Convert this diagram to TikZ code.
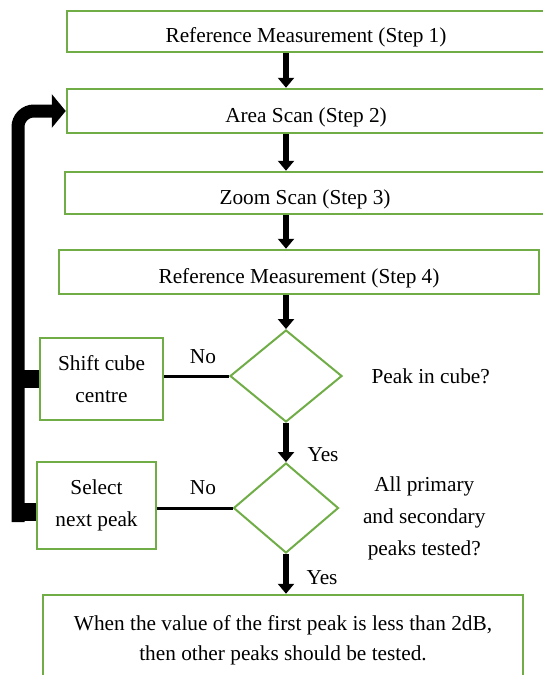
\documentclass[tikz,border=0pt]{standalone}
\usepackage{fontspec}
\setmainfont{Liberation Serif}
\usetikzlibrary{arrows.meta,shapes.geometric,positioning}
\definecolor{boxgreen}{RGB}{112,173,71}

\begin{document}
\begin{tikzpicture}[x=1pt,y=-1pt,font=\fontsize{21.3}{32}\selectfont]
  \tikzstyle{stepbox}=[draw=boxgreen, line width=2.5pt, align=center, inner sep=0pt]
  \tikzstyle{steprow}=[stepbox, text height=22pt, text depth=0pt]
  \tikzstyle{test}=[diamond, draw=boxgreen, line width=2pt, inner sep=0pt]
  \tikzstyle{flow}=[line width=6pt, -{Triangle[width=16pt,length=10pt]}]
  \tikzstyle{back}=[line width=13pt, rounded corners=16pt, -{Triangle[width=33pt,length=14pt]}]
  \tikzstyle{stub}=[line width=18pt]
  \tikzstyle{noline}=[line width=3pt]

  \useasboundingbox (0,0) rectangle (542,675);

  % main column
  \node[steprow, minimum width=478pt, minimum height=41pt] (s_1) at (306,31.5) {Reference Measurement (Step 1)};
  \node[steprow, minimum width=478pt, minimum height=44pt] (s_2) at (306,111) {Area Scan (Step 2)};
  \node[steprow, minimum width=480pt, minimum height=42pt] (s_3) at (305,193) {Zoom Scan (Step 3)};
  \node[steprow, minimum width=480pt, minimum height=44pt] (s_4) at (299,272) {Reference Measurement (Step 4)};
  \node[test, minimum width=112pt, minimum height=92pt] (d_1) at (286,376) {};
  \node[test, minimum width=105pt, minimum height=90pt] (d_2) at (286,508) {};
  \node[stepbox, minimum width=480pt, minimum height=91pt, font=\fontsize{21.3}{30}\selectfont] (end) at (283,640.5)
    {When the value of the first peak is less than 2dB,\\ then other peaks should be tested.};

  % side boxes
  \node[stepbox, minimum width=123pt, minimum height=82pt] (shift) at (101.5,379) {Shift cube\\ centre};
  \node[stepbox, minimum width=119pt, minimum height=87pt] (select) at (96.5,505.5) {Select\\ next peak};

  % questions and answers
  \node[right=25pt of d_1] (q_1) {Peak in cube?};
  \node[right=20pt of d_2, yshift=-10pt, align=center] (q_2) {All primary\\ and secondary\\ peaks tested?};
  \node (no_1) at (203,357) {No};
  \node (no_2) at (203,488) {No};
  \node (yes_1) at (323,455) {Yes};
  \node (yes_2) at (322,578) {Yes};

  \path[flow]
    (s_1.south -| d_1) edge (s_2.north -| d_1)
    (s_2.south -| d_1) edge (s_3.north -| d_1)
    (s_3.south -| d_1) edge (s_4.north -| d_1)
    (s_4.south -| d_1) edge (d_1.north)
    (d_1.south) edge (d_2.north)
    (d_2.south) edge (end.north -| d_2);

  \draw[noline] (d_1.west) -- (d_1.west -| shift.east);
  \draw[noline] (d_2.west) -- (d_2.west -| select.east);

  % loop back to the area scan
  \coordinate (bend) at (18,522);
  \draw[back] (bend) |- (s_2);
  \draw[stub] (shift.west) -- ([xshift=-6.5pt]shift.west -| bend);
  \draw[stub] ([yshift=-6.5pt]select.west) -- ([yshift=-6.5pt,xshift=-6.5pt]select.west -| bend);
\end{tikzpicture}
\end{document}
